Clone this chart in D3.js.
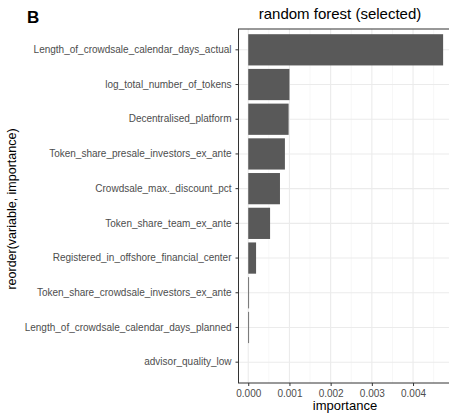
<!DOCTYPE html>
<html>
<head>
<meta charset="utf-8">
<script src="https://cdn.jsdelivr.net/npm/d3@7"></script>
<style>
  body { margin: 0; background: #fff; }
  svg { display: block; font-family: "Liberation Sans", Arial, sans-serif; }
</style>
</head>
<body>
<svg id="chart" width="449" height="413"></svg>
<script>
// variables, top to bottom (reorder by importance)
var variables = [
  "Length_of_crowdsale_calendar_days_actual",
  "log_total_number_of_tokens",
  "Decentralised_platform",
  "Token_share_presale_investors_ex_ante",
  "Crowdsale_max._discount_pct",
  "Token_share_team_ex_ante",
  "Registered_in_offshore_financial_center",
  "Token_share_crowdsale_investors_ex_ante",
  "Length_of_crowdsale_calendar_days_planned",
  "advisor_quality_low"
];
var importance = [0.00473, 0.00100, 0.00098, 0.00089, 0.00077, 0.00053, 0.00019, 0.00002, 0.00002, 0.0];
var xTicks = [0, 0.001, 0.002, 0.003, 0.004];
var xMinor = [0.0005, 0.0015, 0.0025, 0.0035, 0.0045];

var svg = d3.select("#chart");

// panel box
var panel = { left: 238.5, top: 29, bottom: 383 };

// ggplot-like 5% expansion on the continuous axis
var maxVal = d3.max(importance);
var xScale = d3.scaleLinear()
  .domain([-0.05 * maxVal, 1.05 * maxVal])
  .range([panel.left, panel.left + 41.2 * 1.1 * maxVal * 1000]);
var panelRight = xScale.range()[1];

// discrete axis with 0.6 band expansion each side
var n = variables.length;
var unit = (panel.bottom - panel.top) / (n + 0.2);
var yScale = d3.scaleBand()
  .domain(variables)
  .range([panel.top + 0.1 * unit, panel.bottom - 0.1 * unit])
  .paddingInner(0.1)
  .paddingOuter(0.05);
// centers
function yc(v) { return yScale(v) + yScale.bandwidth() / 2; }

var g = svg.append("g");

// clip the panel to the page
svg.append("defs").append("clipPath").attr("id", "pclip")
  .append("rect")
  .attr("x", panel.left).attr("y", panel.top)
  .attr("width", panelRight - panel.left).attr("height", panel.bottom - panel.top);

var p = g.append("g").attr("clip-path", "url(#pclip)");

// minor grid
p.selectAll(".minor").data(xMinor).enter().append("line")
  .attr("x1", function(d) { return xScale(d); })
  .attr("x2", function(d) { return xScale(d); })
  .attr("y1", panel.top).attr("y2", panel.bottom)
  .attr("stroke", "#f2f2f2").attr("stroke-width", 0.6);

// major grid
p.selectAll(".majorx").data(xTicks).enter().append("line")
  .attr("x1", function(d) { return xScale(d); })
  .attr("x2", function(d) { return xScale(d); })
  .attr("y1", panel.top).attr("y2", panel.bottom)
  .attr("stroke", "#ebebeb").attr("stroke-width", 1.1);
p.selectAll(".majory").data(variables).enter().append("line")
  .attr("x1", panel.left).attr("x2", panelRight)
  .attr("y1", yc).attr("y2", yc)
  .attr("stroke", "#ebebeb").attr("stroke-width", 1.1);

// bars
p.selectAll(".bar").data(variables).enter().append("rect")
  .attr("class", "bar")
  .attr("x", xScale(0))
  .attr("y", function(d) { return yScale(d); })
  .attr("width", function(d, i) { return xScale(importance[i]) - xScale(0); })
  .attr("height", yScale.bandwidth())
  .attr("fill", "#595959");

// panel border
g.append("rect")
  .attr("x", panel.left).attr("y", panel.top)
  .attr("width", panelRight - panel.left).attr("height", panel.bottom - panel.top)
  .attr("fill", "none").attr("stroke", "#333333").attr("stroke-width", 1);

// x axis
var xAxis = d3.axisBottom(xScale)
  .tickValues(xTicks)
  .tickFormat(d3.format(".3f"))
  .tickSize(3).tickPadding(4);
var xa = g.append("g")
  .attr("transform", "translate(0," + panel.bottom + ")")
  .call(xAxis);
xa.select(".domain").remove();
xa.selectAll(".tick line").attr("stroke", "#333333");
xa.selectAll(".tick text").attr("fill", "#4d4d4d").style("font-size", "10px");

// y axis
var yAxis = d3.axisLeft(yScale).tickSize(3).tickPadding(4);
var ya = g.append("g")
  .attr("transform", "translate(" + panel.left + ",0)")
  .call(yAxis);
ya.select(".domain").remove();
ya.selectAll(".tick line").attr("stroke", "#333333");
ya.selectAll(".tick text").attr("fill", "#4d4d4d").style("font-size", "10px");

// titles
svg.append("text")
  .attr("x", 340).attr("y", 19)
  .attr("text-anchor", "middle")
  .style("font-size", "15px")
  .text("random forest (selected)");

svg.append("text")
  .attr("x", 345).attr("y", 410)
  .attr("text-anchor", "middle")
  .style("font-size", "13px")
  .text("importance");

svg.append("text")
  .attr("transform", "translate(16,209) rotate(-90)")
  .attr("text-anchor", "middle")
  .style("font-size", "12.5px")
  .text("reorder(variable, importance)");

svg.append("text")
  .attr("x", 27).attr("y", 23)
  .style("font-size", "17px").style("font-weight", "bold")
  .text("B");
</script>
</body>
</html>
